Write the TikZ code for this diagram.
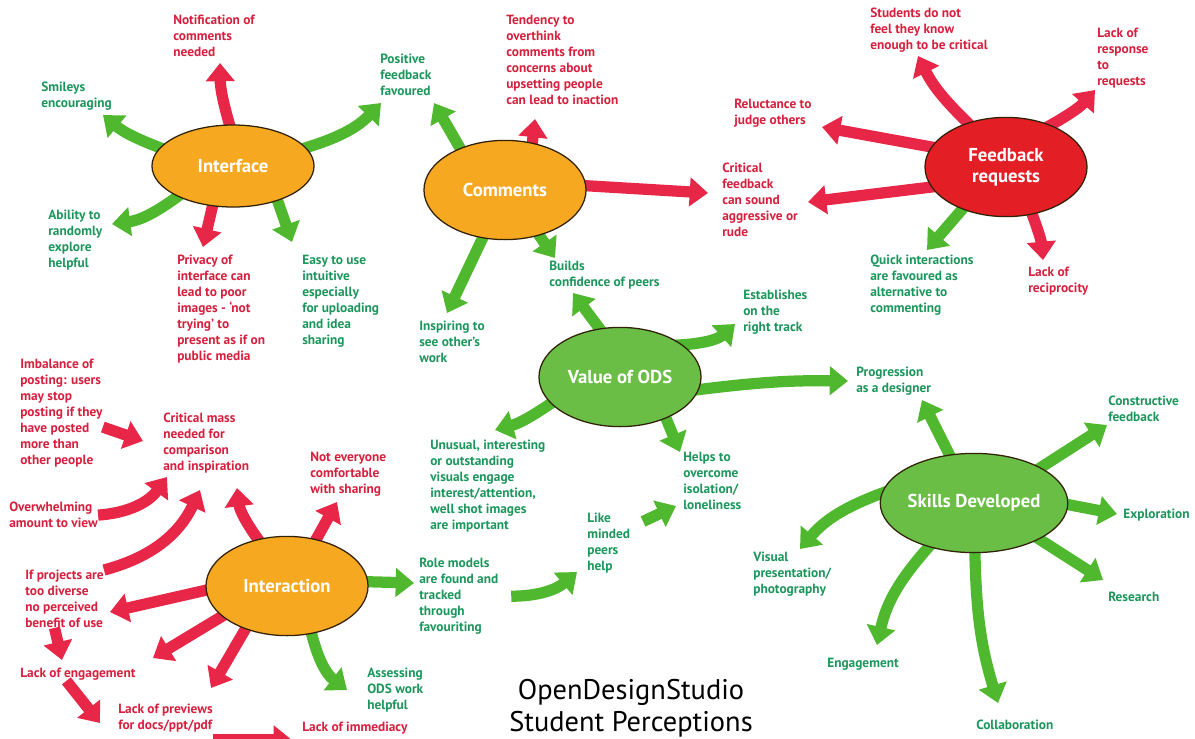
\documentclass[tikz,border=0pt]{standalone}
\usepackage{fontspec}
\setmainfont{PT Sans}
\usetikzlibrary{shapes.geometric, arrows.meta}
\definecolor{arrgreen}{RGB}{80,184,46}
\definecolor{arrred}{RGB}{232,38,72}
\definecolor{txtgreen}{RGB}{28,150,92}
\definecolor{txtred}{RGB}{214,32,62}
\definecolor{hubor}{RGB}{246,168,33}
\definecolor{hubred}{RGB}{228,30,37}
\definecolor{hubgr}{RGB}{106,189,69}
\pgfdeclarelayer{back}
\pgfsetlayers{back,main}
\tikzset{
  hub/.style={ellipse, draw=black!80!hubor, line width=0.9pt, inner sep=0pt, minimum width=4.05cm, minimum height=2.48cm, text=white, font=\fontsize{13.3}{15}\selectfont\bfseries, align=center},
  gtxt/.style={anchor=north west, inner sep=0pt, align=left, text=txtgreen, font=\fontsize{9.5}{11.3}\selectfont\bfseries},
  rtxt/.style={gtxt, text=txtred},
  garr/.style={draw=arrgreen, line width=8pt, -{Triangle[length=13pt, width=20pt]}},
  rarr/.style={garr, draw=arrred}
}
\begin{document}
\begin{tikzpicture}[x=0.025cm, y=-0.025cm]
\useasboundingbox (0,0) rectangle (1195,738);
\node[hub, fill=hubor, minimum height=2.05cm] (intf) at (233,166) {Interface};
\node[hub, fill=hubor] (comm) at (505,190) {Comments};
\node[hub, fill=hubred] (feed) at (1006,167) {Feedback\\requests};
\node[hub, fill=hubgr] (value) at (620,377) {Value of ODS};
\node[hub, fill=hubor] (inter) at (287,586) {Interaction};
\node[hub, fill=hubgr] (skill) at (974,503) {Skills Developed};

\node[rtxt] (notif) at (173,15) {Notification of\\comments\\needed};
\node[gtxt] (smile) at (41,82) {Smileys\\encouraging};
\node[gtxt] (abil) at (48,210) {Ability to\\randomly\\explore\\helpful};
\node[rtxt] (priv) at (177,255) {Privacy of\\interface can\\lead to poor\\images - ‘not\\trying’ to\\present as if on\\public media};
\node[gtxt] (easy) at (302,255) {Easy to use\\intuitive\\especially\\for uploading\\and idea\\sharing};
\node[gtxt] (posit) at (380,54) {Positive\\feedback\\favoured};
\node[rtxt] (tend) at (506,15) {Tendency to\\overthink\\comments from\\concerns about\\upsetting people\\can lead to inaction};
\node[rtxt] (crit) at (722,163) {Critical\\feedback\\can sound\\aggressive or\\rude};
\node[gtxt] (build) at (549,261) {Builds\\confidence of peers};
\node[gtxt] (insp) at (419,321) {Inspiring to\\see other’s\\work};
\node[rtxt] (stud) at (870,8) {Students do not\\feel they know\\enough to be critical};
\node[rtxt] (resp) at (1097,28) {Lack of\\response\\to\\requests};
\node[rtxt] (reluc) at (734,99) {Reluctance to\\judge others};
\node[gtxt] (quick) at (870,255) {Quick interactions\\are favoured as\\alternative to\\commenting};
\node[rtxt] (recip) at (1028,267) {Lack of\\reciprocity};
\node[gtxt] (estab) at (743,290) {Establishes\\on the\\right track};
\node[gtxt] (unus) at (430,440) {Unusual, interesting\\or outstanding\\visuals engage\\interest/attention,\\well shot images\\are important};
\node[gtxt] (helps) at (683,452) {Helps to\\overcome\\isolation/\\loneliness};
\node[gtxt] (like) at (587,513) {Like\\minded\\peers\\help};
\node[gtxt] (role) at (419,558) {Role models\\are found and\\tracked\\through\\favouriting};
\node[gtxt] (assess) at (367,668) {Assessing\\ODS work\\helpful};
\node[rtxt] (imbal) at (20,359) {Imbalance of\\posting: users\\may stop\\posting if they\\have posted\\more than\\other people};
\node[rtxt] (mass) at (163,413) {Critical mass\\needed for\\comparison\\and inspiration};
\node[rtxt] (overw) at (9,502) {Overwhelming\\amount to view};
\node[rtxt] (notev) at (310,452) {Not everyone\\comfortable\\with sharing};
\node[rtxt] (divers) at (25,570) {If projects are\\too diverse\\no perceived\\benefit of use};
\node[rtxt] (engag) at (20,668) {Lack of engagement};
\node[rtxt] (prev) at (118,704) {Lack of previews\\for docs/ppt/pdf};
\node[rtxt] (immed) at (302,722) {Lack of immediacy};
\node[gtxt] (progr) at (856,367) {Progression\\as a designer};
\node[gtxt] (constr) at (1108,396) {Constructive\\feedback};
\node[gtxt] (explo) at (1123,509) {Exploration};
\node[gtxt] (visual) at (753,552) {Visual\\presentation/\\photography};
\node[gtxt] (resea) at (1108,592) {Research};
\node[gtxt] (engm) at (827,658) {Engagement};
\node[gtxt] (collab) at (976,720) {Collaboration};
\node[font=\fontsize{20.2}{22.7}\selectfont, align=center, anchor=north] (title) at (631,674) {OpenDesignStudio\\Student Perceptions};

\coordinate (tNotif) at (220,63); \coordinate (tSmile) at (103,115); \coordinate (tAbil) at (112,224);
\coordinate (tPriv) at (203,247); \coordinate (tEasy) at (292,242); \coordinate (tPosA) at (381,103);
\coordinate (tPosB) at (434,103); \coordinate (tTend) at (535,119); \coordinate (tCritA) at (708,193);
\coordinate (tBuildA) at (555,258); \coordinate (tInsp) at (447,313);
\coordinate (tStud) at (918,56); \coordinate (tResp) at (1095,90); \coordinate (tReluc) at (822,127);
\coordinate (tCritB) at (808,202); \coordinate (tQuick) at (927,250); \coordinate (tRecip) at (1043,260);
\coordinate (tBuildB) at (573,293); \coordinate (tEstab) at (735,324); \coordinate (tProgA) at (848,381);
\coordinate (tUnus) at (495,430); \coordinate (tHelpA) at (680,452);
\coordinate (tMassA) at (237,488); \coordinate (tNotev) at (337,502); \coordinate (tRole) at (414,583);
\coordinate (tAssess) at (347,690); \coordinate (tDivers) at (110,612); \coordinate (tEngA) at (153,658);
\coordinate (tPrevA) at (211,688);
\coordinate (tMassB) at (143,441); \coordinate (tMassC) at (167,477); \coordinate (tMassD) at (200,490);
\coordinate (tEngB) at (62,660); \coordinate (tPrevB) at (100,723); \coordinate (tImmed) at (292,740);
\coordinate (tLike) at (577,572); \coordinate (tHelpB) at (676,506);
\coordinate (tProgB) at (922,400); \coordinate (tConstr) at (1107,425); \coordinate (tExplo) at (1117,514);
\coordinate (tResea) at (1103,580); \coordinate (tCollab) at (998,703); \coordinate (tEngm) at (877,645);
\coordinate (tVisual) at (800,549);

\begin{pgfonlayer}{back}
\begin{scope}[shorten <=-8pt]
\draw[rarr] (intf.95) to[bend left=8] (tNotif);
\draw[garr] (intf.166) to[bend left=10] (tSmile);
\draw[garr] (intf.209) to[bend left=15] (tAbil);
\draw[rarr] (intf.243) -- (tPriv);
\draw[garr] (intf.-38) -- (tEasy);
\draw[garr] (intf.14) to[bend right=15] (tPosA);
\draw[garr] (comm.137) -- (tPosB);
\draw[rarr] (comm.60) -- (tTend);
\draw[rarr] (comm.3) -- (tCritA);
\draw[garr] (comm.-53) -- (tBuildA);
\draw[garr] (comm.-115) -- (tInsp);
\draw[rarr] (feed.131) to[bend left=10] (tStud);
\draw[rarr] (feed.43) to[bend right=10] (tResp);
\draw[rarr] (feed.165) -- (tReluc);
\draw[rarr] (feed.195) -- (tCritB);
\draw[garr] (feed.224) -- (tQuick);
\draw[rarr] (feed.-61) to[bend left=8] (tRecip);
\draw[garr] (value.113) -- (tBuildB);
\draw[garr] (value.27) to[bend right=20] (tEstab);
\draw[garr] (value.-9) to[bend left=4] (tProgA);
\draw[garr] (value.201) to[bend left=10] (tUnus);
\draw[garr] (value.-42) -- (tHelpA);
\draw[rarr] (inter.122) to[bend left=15] (tMassA);
\draw[rarr] (inter.58) -- (tNotev);
\draw[garr] (inter.3) -- (tRole);
\draw[garr] (inter.-63) to[bend right=20] (tAssess);
\draw[rarr] (inter.183) -- (tDivers);
\draw[rarr] (inter.205) -- (tEngA);
\draw[rarr] (inter.226) -- (tPrevA);
\draw[garr] (skill.117) -- (tProgB);
\draw[garr] (skill.28) -- (tConstr);
\draw[garr] (skill.-1) -- (tExplo);
\draw[garr] (skill.-29) -- (tResea);
\draw[garr] (skill.-89) to[bend right=8] (tCollab);
\draw[garr] (skill.224) to[bend right=15] (tEngm);
\draw[garr] (skill.174) to[bend right=15] (tVisual);
\end{scope}
\draw[rarr] ([yshift=-10pt]imbal.east) -- (tMassB);
\draw[rarr] (overw.east) to[bend right=25] (tMassC);
\draw[rarr] (divers.north east) to[bend right=25] (tMassD);
\draw[rarr] ([xshift=21pt]divers.south west) -- (tEngB);
\draw[rarr] ([xshift=33pt]engag.south west) -- (tPrevB);
\draw[rarr] (prev.south east |- tImmed) -- (tImmed);
\draw[garr] ([xshift=9pt]role.east) to[bend right=20] (tLike);
\draw[garr] ([xshift=9pt,yshift=-6pt]like.north east) -- (tHelpB);
\end{pgfonlayer}
\end{tikzpicture}
\end{document}
